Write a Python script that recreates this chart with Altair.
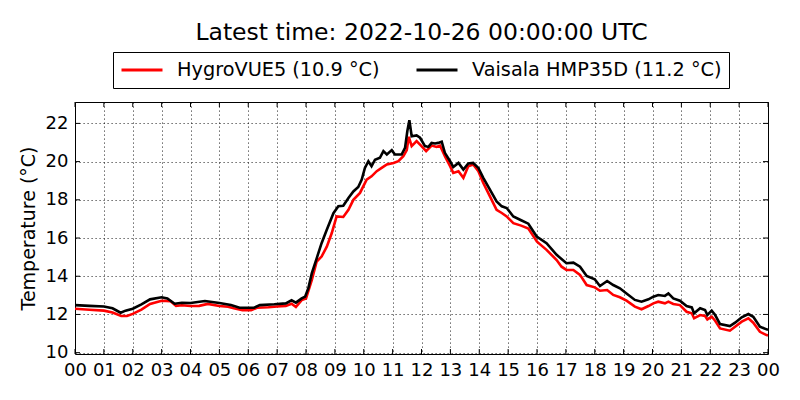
import altair as alt
import pandas as pd

title_text = "Latest time: 2022-10-26 00:00:00 UTC"
series_names = ["HygroVUE5 (10.9 °C)", "Vaisala HMP35D (11.2 °C)"]
series_colors = ["#ff0000", "#000000"]
hour_ticks = list(range(0, 25))
temp_ticks = [10, 12, 14, 16, 18, 20, 22]

hygro_hours = [0.0, 0.5, 1.0, 1.3, 1.6, 1.8, 2.0, 2.3, 2.6, 3.0, 3.3, 3.5, 3.7, 4.0, 4.3, 4.6,
               5.0, 5.3, 5.5, 5.8, 6.1, 6.3, 6.7, 7.0, 7.3, 7.5, 7.65, 7.85, 8.0, 8.2, 8.37,
               8.54, 8.72, 8.89, 9.06, 9.29, 9.47, 9.64, 9.87, 10.1, 10.27, 10.45, 10.62,
               10.8, 11.03, 11.2, 11.37, 11.49, 11.56, 11.66, 11.83, 12.0, 12.16, 12.35,
               12.52, 12.64, 12.81, 12.99, 13.1, 13.28, 13.45, 13.62, 13.79, 13.97, 14.14,
               14.37, 14.6, 14.78, 14.95, 15.18, 15.45, 15.7, 16.0, 16.33, 16.68, 16.85,
               17.02, 17.26, 17.49, 17.72, 18.0, 18.18, 18.43, 18.64, 18.87, 19.1, 19.39,
               19.62, 19.86, 20.03, 20.2, 20.43, 20.55, 20.72, 20.95, 21.18, 21.36, 21.44,
               21.65, 21.82, 21.9, 22.05, 22.17, 22.34, 22.68, 22.86, 23.09, 23.32, 23.49,
               23.72, 23.95, 24.0]
hygro_temp = [12.30, 12.25, 12.20, 12.10, 11.92, 11.92, 12.03, 12.25, 12.55, 12.72, 12.70,
              12.45, 12.48, 12.44, 12.45, 12.55, 12.44, 12.40, 12.32, 12.22, 12.22, 12.35,
              12.38, 12.42, 12.45, 12.56, 12.39, 12.75, 12.84, 13.80, 14.77, 15.03, 15.55,
              16.25, 17.13, 17.10, 17.48, 18.00, 18.36, 19.06, 19.23, 19.50, 19.67, 19.85,
              19.93, 20.02, 20.28, 20.60, 21.30, 20.81, 21.07, 20.81, 20.55, 20.84, 20.77,
              20.84, 20.28, 19.76, 19.41, 19.50, 19.15, 19.76, 19.85, 19.50, 18.88, 18.18,
              17.48, 17.31, 17.13, 16.78, 16.65, 16.50, 15.81, 15.38, 14.85, 14.50, 14.33,
              14.33, 14.07, 13.54, 13.42, 13.24, 13.28, 13.02, 12.90, 12.72, 12.41, 12.27,
              12.44, 12.58, 12.67, 12.58, 12.67, 12.55, 12.49, 12.14, 12.06, 11.80, 11.97,
              11.92, 11.74, 11.88, 11.67, 11.27, 11.15, 11.36, 11.62, 11.80, 11.57, 11.09,
              10.92, 10.90]

vaisala_hours = [0.0, 0.5, 1.0, 1.3, 1.58, 1.75, 2.0, 2.3, 2.6, 3.0, 3.2, 3.45, 3.7, 4.0, 4.5,
                 5.0, 5.4, 5.7, 6.2, 6.4, 6.9, 7.3, 7.5, 7.65, 7.85, 7.97, 8.08, 8.2, 8.37,
                 8.54, 8.72, 8.95, 9.12, 9.29, 9.47, 9.64, 9.81, 9.93, 10.04, 10.16, 10.27,
                 10.39, 10.56, 10.68, 10.8, 10.97, 11.08, 11.31, 11.43, 11.51, 11.58, 11.66,
                 11.83, 11.95, 12.12, 12.24, 12.35, 12.47, 12.58, 12.7, 12.81, 12.99, 13.1,
                 13.28, 13.45, 13.62, 13.79, 13.97, 14.14, 14.37, 14.6, 14.78, 14.95, 15.18,
                 15.45, 15.7, 15.99, 16.33, 16.68, 17.02, 17.26, 17.49, 17.72, 18.0, 18.18,
                 18.43, 18.64, 18.87, 19.1, 19.39, 19.62, 19.86, 20.03, 20.2, 20.43, 20.55,
                 20.72, 20.95, 21.18, 21.36, 21.44, 21.65, 21.82, 21.9, 22.05, 22.17, 22.34,
                 22.68, 22.86, 23.09, 23.32, 23.49, 23.72, 23.95, 24.0]
vaisala_temp = [12.49, 12.45, 12.42, 12.32, 12.09, 12.20, 12.30, 12.53, 12.79, 12.90, 12.84,
                12.56, 12.61, 12.60, 12.70, 12.60, 12.49, 12.35, 12.35, 12.49, 12.53, 12.58,
                12.74, 12.62, 12.84, 12.93, 13.37, 14.15, 14.94, 15.73, 16.43, 17.30, 17.66,
                17.69, 18.10, 18.44, 18.67, 19.06, 19.67, 20.02, 19.76, 20.10, 20.20, 20.55,
                20.37, 20.60, 20.37, 20.37, 20.72, 21.60, 22.17, 21.33, 21.37, 21.25, 20.81,
                20.77, 20.98, 20.95, 20.98, 21.04, 20.46, 20.02, 19.72, 19.93, 19.58, 19.90,
                19.93, 19.67, 19.15, 18.53, 17.92, 17.66, 17.57, 17.13, 16.93, 16.75, 16.08,
                15.73, 15.12, 14.68, 14.71, 14.50, 14.01, 13.84, 13.49, 13.75, 13.54, 13.37,
                13.10, 12.76, 12.67, 12.79, 12.93, 13.02, 12.97, 13.10, 12.84, 12.72, 12.44,
                12.37, 12.06, 12.32, 12.23, 11.97, 12.20, 11.97, 11.50, 11.39, 11.57, 11.85,
                12.02, 11.88, 11.36, 11.22, 11.20]

df = pd.concat([
    pd.DataFrame({"hour": hygro_hours, "temp": hygro_temp, "series": series_names[0]}),
    pd.DataFrame({"hour": vaisala_hours, "temp": vaisala_temp, "series": series_names[1]}),
], ignore_index=True)

W, H = 693, 252
FONT = "DejaVu Sans"
xscale = alt.Scale(domain=[0, 24], nice=False, zero=False)
yscale = alt.Scale(domain=[9.93, 23.12], nice=False, zero=False)

x_enc = alt.X("hour:Q", scale=xscale, title=None, axis=alt.Axis(
    values=hour_ticks, title=None, grid=True, ticks=False, tickSize=0, domain=False,
    labelExpr="(datum.value % 24 < 10 ? '0' : '') + (datum.value % 24)",
    labelFont=FONT, labelFontSize=18, labelColor="black", labelPadding=7,
    labelFlush=False, labelOverlap=False, labelBound=False,
    gridColor="black", gridDash=[1.2, 2.8], gridOpacity=0.75, gridWidth=1))
y_enc = alt.Y("temp:Q", scale=yscale, title="Temperature (°C)", axis=alt.Axis(
    values=temp_ticks, title="Temperature (°C)", grid=True, ticks=False, tickSize=0,
    domain=False, labelFont=FONT, labelFontSize=18, labelColor="black", labelPadding=7,
    labelFlush=False, labelOverlap=False,
    titleFont=FONT, titleFontSize=19, titleFontWeight="normal", titleColor="black",
    titleAngle=-90, titleX=-47, titleY=H / 2, titleBaseline="middle", titleAlign="center",
    gridColor="black", gridDash=[1.2, 2.8], gridOpacity=0.75, gridWidth=1))

lines = alt.Chart(df).mark_line(strokeWidth=2.6, clip=True).encode(
    x=x_enc,
    y=y_enc,
    color=alt.Color("series:N", scale=alt.Scale(domain=series_names, range=series_colors),
                    legend=alt.Legend(
                        title=None, orient="none", legendX=38, legendY=-50,
                        direction="horizontal", symbolType="stroke", symbolSize=1681,
                        symbolStrokeWidth=3, clipHeight=22, labelFont=FONT, labelFontSize=19.3,
                        labelColor="black", labelLimit=0, columnPadding=35, labelOffset=13,
                        padding=7, strokeColor="black", fillColor="white", cornerRadius=0)),
    order=alt.Order("hour:Q"),
)

xt = pd.DataFrame({"hour": hour_ticks})
yt = pd.DataFrame({"temp": temp_ticks})
tick_style = dict(color="black", strokeWidth=1)
bottom_ticks = alt.Chart(xt).mark_rule(**tick_style).encode(
    x=x_enc, y=alt.value(H), y2=alt.value(H - 5))
top_ticks = alt.Chart(xt).mark_rule(**tick_style).encode(
    x=x_enc, y=alt.value(0), y2=alt.value(5))
left_ticks = alt.Chart(yt).mark_rule(**tick_style).encode(
    y=y_enc, x=alt.value(0), x2=alt.value(5))
right_ticks = alt.Chart(yt).mark_rule(**tick_style).encode(
    y=y_enc, x=alt.value(W), x2=alt.value(W - 5))

chart = alt.layer(lines, bottom_ticks, top_ticks, left_ticks, right_ticks).properties(
    width=W, height=H,
    title=alt.TitleParams(text=title_text, anchor="middle", frame="group", font=FONT,
                          fontSize=23.5, fontWeight="normal", color="black",
                          baseline="alphabetic", offset=14, dy=26),
    padding={"left": 67, "top": 94, "right": 24, "bottom": 38},
    autosize=alt.AutoSizeParams(type="none"),
    background="white",
).configure_view(stroke="black", strokeWidth=1)

chart.save("out.html", embed_options={"renderer": "svg", "actions": False})
